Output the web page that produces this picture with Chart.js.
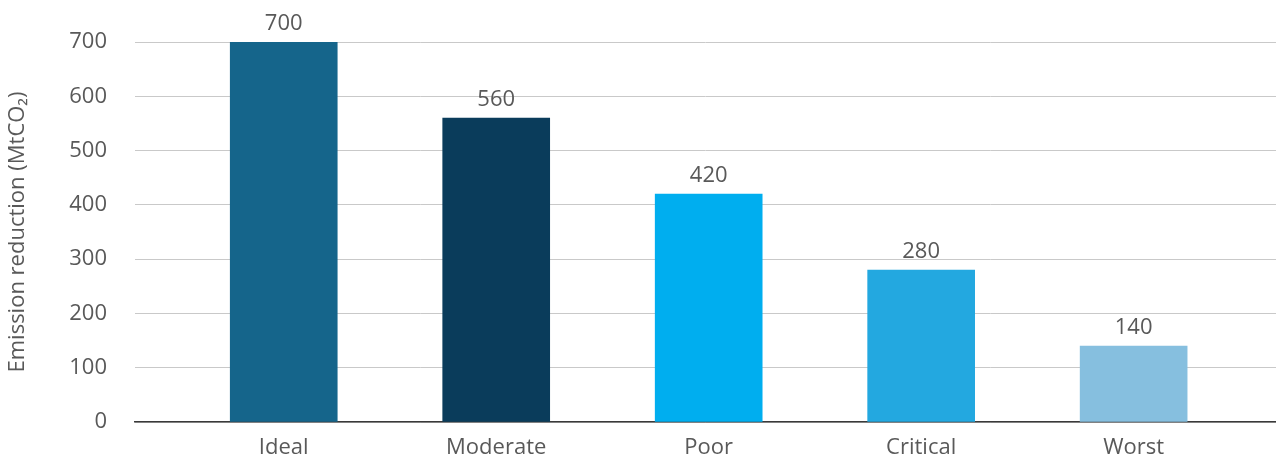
<!DOCTYPE html>
<html>
<head>
<meta charset="utf-8">
<script src="https://cdn.jsdelivr.net/npm/chart.js@4"></script>
<style>
  html, body { margin: 0; padding: 0; background: #fff; overflow: hidden; }
  canvas { display: block; }
</style>
</head>
<body>
<canvas id="bar" width="1276" height="460"></canvas>
<script>
const categories = ['Ideal', 'Moderate', 'Poor', 'Critical', 'Worst'];
const reduction = [700, 560, 420, 280, 140];
const barColors = ['#15658b', '#0a3c5b', '#00aeef', '#23a8e0', '#86bfdf'];
const yTicks = [0, 100, 200, 300, 400, 500, 600, 700];

// labels above each bar
const valueLabels = {
    id: 'valueLabels',
    afterDatasetsDraw(chart) {
        const ctx = chart.ctx;
        const meta = chart.getDatasetMeta(0);
        ctx.save();
        ctx.font = '22px "Open Sans"';
        ctx.fillStyle = '#595959';
        ctx.textAlign = 'center';
        ctx.textBaseline = 'alphabetic';
        meta.data.forEach((bar, i) => {
            ctx.fillText(reduction[i], bar.x, bar.y - 12);
        });
        ctx.restore();
    }
};

const canvas = document.getElementById('bar');
const ctx = canvas.getContext('2d');
const myChart = new Chart(ctx, {
    type: 'bar',
    data: {
        datasets: [{
            data: reduction.map((v, i) => ({ x: i, y: v })),
            backgroundColor: barColors,
            barThickness: 107
        }]
    },
    options: {
        responsive: false,
        animation: false,
        layout: { padding: { top: 42, left: 0, right: 0, bottom: 0 } },
        plugins: {
            legend: { display: false },
            tooltip: { enabled: false }
        },
        scales: {
            x: {
                type: 'linear',
                offset: false,
                min: -0.70,
                max: 4.67,
                afterFit: s => { s.height = 38; s.paddingLeft = 0; s.paddingRight = 0; },
                grid: { display: false },
                border: { display: true, color: '#3a3a3a', width: 1.5 },
                ticks: {
                    stepSize: 1,
                    autoSkip: false,
                    maxRotation: 0,
                    padding: 6,
                    color: '#595959',
                    font: { family: 'Open Sans', size: 22, lineHeight: 1.05 },
                    callback: v => Number.isInteger(v) && categories[v] ? categories[v] : ''
                }
            },
            y: {
                min: 0,
                max: 700,
                afterFit: s => { s.width = 135; s.paddingTop = 0; s.paddingBottom = 0; },
                afterBuildTicks: s => { s.ticks = yTicks.map(v => ({ value: v })); },
                grid: { color: '#c9c9c9', lineWidth: 1, drawTicks: false },
                border: { display: false },
                ticks: {
                    padding: 28,
                    color: '#595959',
                    font: { family: 'Open Sans', size: 22 }
                },
                title: {
                    display: true,
                    text: 'Emission reduction (MtCO\u2082)',
                    color: '#595959',
                    padding: { top: 5, bottom: 0 },
                    font: { family: 'Open Sans', size: 22 }
                }
            }
        }
    },
    plugins: [valueLabels]
});
</script>
</body>
</html>
